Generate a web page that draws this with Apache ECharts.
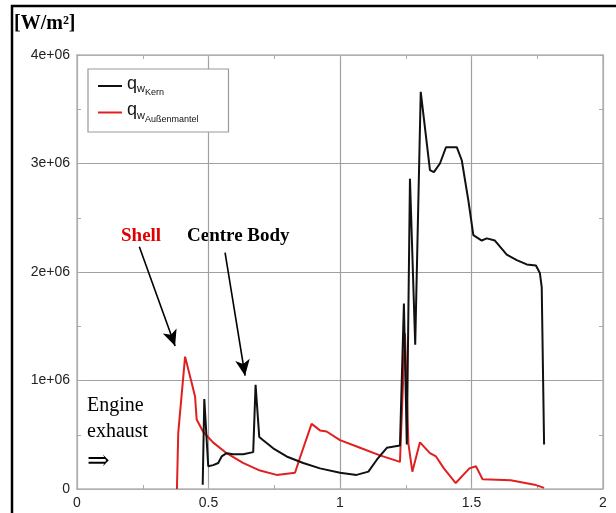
<!DOCTYPE html>
<html>
<head>
<meta charset="utf-8">
<script src="https://cdn.jsdelivr.net/npm/echarts@6/dist/echarts.min.js"></script>
<style>
html, body { margin: 0; padding: 0; background: #fff; }
#container { width: 616px; height: 513px; }
</style>
</head>
<body>
<div id="container"></div>
<script>
// Wärmestromdichte entlang der Kontur (Kern = centre body, Außenmantel = shell)
var xTicks = [0, 0.5, 1, 1.5, 2];
var yTicks = [0, 1e6, 2e6, 3e6, 4e6];

var kernX = [0.478, 0.484, 0.499, 0.518, 0.537, 0.550, 0.569, 0.594, 0.632, 0.670, 0.679, 0.693, 0.708,
    0.746, 0.797, 0.860, 0.924, 1.000, 1.063, 1.108, 1.140, 1.178, 1.228, 1.243, 1.254, 1.266, 1.286,
    1.307, 1.342, 1.357, 1.380, 1.403, 1.444, 1.463, 1.488, 1.507, 1.539, 1.558, 1.589, 1.634, 1.672,
    1.710, 1.745, 1.760, 1.767, 1.776];
var kernY = [40000, 830000, 210000, 220000, 240000, 300000, 330000, 320000, 320000, 340000, 960000, 480000, 450000,
    375000, 300000, 240000, 190000, 150000, 130000, 160000, 270000, 380000, 400000, 1710000, 410000, 2860000, 1330000,
    3660000, 2940000, 2920000, 3000000, 3150000, 3150000, 3030000, 2660000, 2340000, 2290000, 2310000, 2290000, 2160000, 2110000,
    2070000, 2060000, 1990000, 1860000, 410000];

var mantelX = [0.380, 0.385, 0.411, 0.436, 0.449, 0.455, 0.479, 0.517, 0.569, 0.631, 0.696, 0.759, 0.829,
    0.848, 0.892, 0.924, 0.949, 1.000, 1.076, 1.152, 1.228, 1.247, 1.260, 1.275, 1.304, 1.342, 1.365,
    1.395, 1.440, 1.492, 1.517, 1.542, 1.649, 1.740, 1.776];
var mantelY = [0, 520000, 1220000, 980000, 850000, 640000, 530000, 430000, 330000, 240000, 170000, 130000, 150000,
    290000, 600000, 540000, 530000, 450000, 380000, 310000, 250000, 1435000, 420000, 160000, 430000, 330000, 300000,
    190000, 55000, 190000, 210000, 90000, 80000, 40000, 10000];

function zip(xs, ys) {
    return xs.map(function (x, i) { return [x, ys[i]]; });
}

var dom = document.getElementById("container");
var myChart = echarts.init(dom, null, {renderer: 'canvas'});

var serif = '"Liberation Serif", "Times New Roman", serif';
var sans = '"Liberation Sans", Arial, sans-serif';

var tickStyle = {show: true, inside: true, length: 4, lineStyle: {color: '#aaa', width: 1}};
var lineStyleBox = {show: true, onZero: false, lineStyle: {color: '#b5b5b5', width: 1.5}};
// Gitterlinien nur bei jedem zweiten Strich
var gridStyle = {show: true, lineStyle: {color: ['#a0a0a0', 'rgba(0,0,0,0)'], width: 1.2}};

var option = {
    animation: false,
    backgroundColor: '#fff',
    grid: {left: 77, right: 13, top: 55, bottom: 24},
    legend: {
        left: 88, top: 69, orient: 'vertical',
        width: 142,
        padding: [6, 30, 8, 10],
        itemGap: 4, itemWidth: 24, itemHeight: 2,
        icon: 'rect',
        borderColor: '#999', borderWidth: 1.2,
        backgroundColor: '#fff',
        data: ['Kern', 'Außenmantel'],
        formatter: function (name) { return '{q|q}{w|w}{s|' + name + '}'; },
        textStyle: {
            rich: {
                q: {fontFamily: sans, fontSize: 18, color: '#111', padding: [0, 0, 4, 0]},
                w: {fontFamily: sans, fontSize: 11, color: '#111', padding: [6, 0, 0, 0]},
                s: {fontFamily: sans, fontSize: 9, color: '#111', padding: [14, 0, 0, 0]}
            }
        }
    },
    xAxis: [
        {
            type: 'value', min: 0, max: 2, interval: 0.25, position: 'bottom',
            axisLine: lineStyleBox,
            axisTick: tickStyle,
            axisLabel: {fontFamily: sans, fontSize: 14, color: '#222', margin: 7,
                formatter: function (v) { return xTicks.indexOf(v) >= 0 ? String(v) : ''; }},
            splitLine: gridStyle
        },
        {
            type: 'value', min: 0, max: 2, interval: 0.25, position: 'top',
            axisLine: lineStyleBox, axisTick: tickStyle,
            axisLabel: {show: false}, splitLine: {show: false}
        }
    ],
    yAxis: [
        {
            type: 'value', min: 0, max: 4e6, interval: 5e5, position: 'left',
            axisLine: lineStyleBox,
            axisTick: tickStyle,
            axisLabel: {fontFamily: sans, fontSize: 14, color: '#222', margin: 7,
                formatter: function (v) { return yTicks.indexOf(v) < 0 ? '' : (v === 0 ? '0' : (v / 1e6) + 'e+06'); }},
            splitLine: gridStyle
        },
        {
            type: 'value', min: 0, max: 4e6, interval: 5e5, position: 'right',
            axisLine: lineStyleBox, axisTick: tickStyle,
            axisLabel: {show: false}, splitLine: {show: false}
        }
    ],
    series: [
        {
            name: 'Kern', type: 'line', symbol: 'none',
            data: zip(kernX, kernY),
            lineStyle: {color: '#111', width: 2},
            itemStyle: {color: '#111'},
            z: 3,
            markLine: {
                silent: true, symbol: ['none', 'arrow'], symbolSize: [11, 16],
                label: {show: false},
                lineStyle: {color: '#000', width: 1.6, type: 'solid'},
                data: [
                    [{coord: [0.237, 2233000]}, {coord: [0.373, 1318000]}],
                    [{coord: [0.563, 2178000]}, {coord: [0.639, 1044000]}]
                ]
            }
        },
        {
            name: 'Außenmantel', type: 'line', symbol: 'none',
            data: zip(mantelX, mantelY),
            lineStyle: {color: '#e02020', width: 2},
            itemStyle: {color: '#e02020'},
            z: 2
        }
    ],
    graphic: [
        {type: 'polyline', shape: {points: [[12, 520], [12, 6], [620, 6]]},
            style: {stroke: '#000', lineWidth: 2.5, fill: null}},
        {type: 'text', left: 14, top: 14,
            style: {text: '[W/m²]', font: 'bold 20px ' + serif, fill: '#000'}},
        {type: 'text', left: 121, top: 227,
            style: {text: 'Shell', font: 'bold 19px ' + serif, fill: '#e00000'}},
        {type: 'text', left: 187, top: 227,
            style: {text: 'Centre Body', font: 'bold 19px ' + serif, fill: '#000'}},
        {type: 'text', left: 87, top: 393,
            style: {text: 'Engine\nexhaust', font: '20px ' + serif, fill: '#000', lineHeight: 26}},
        {type: 'text', left: 87, top: 448,
            style: {text: '⇒', font: '27px "DejaVu Serif", serif', fill: '#000'}}
    ]
};
myChart.setOption(option, true);
</script>
</body>
</html>
